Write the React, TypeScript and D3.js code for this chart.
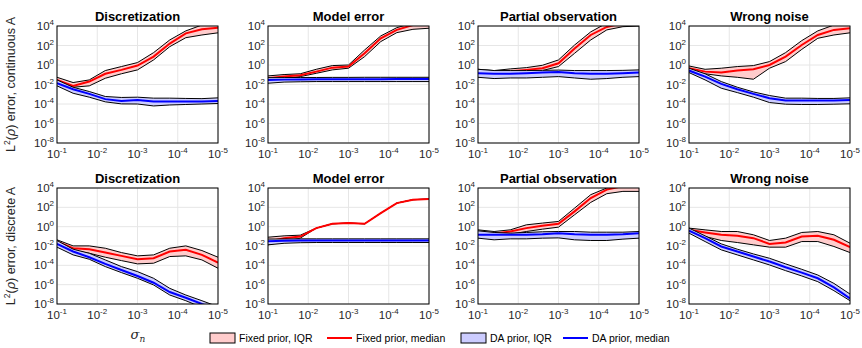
import * as d3 from 'd3'

// noise level sigma_n (x axis, reversed log)
const sigma = [1e-1, 3.98e-2, 1.58e-2, 6.31e-3, 2.51e-3, 1e-3, 3.98e-4, 1.58e-4, 6.31e-5, 2.51e-5, 1e-5]
const xTickExp = [-1, -2, -3, -4, -5]
const yTickExp = [4, 2, 0, -2, -4, -6, -8]

const panelTitles = ['Discretization', 'Model error', 'Partial observation', 'Wrong noise']
const rowLabels = ['continuous A', 'discrete A']

// errors as log10 values: fixed prior (lo / median / hi), DA prior (lo / median / hi)
const contDiscretization = {
  fixLo: [-1.8, -2.28, -2.14, -1.36, -0.9, -0.5, 0.52, 1.88, 2.8, 3.08, 3.3],
  fixMed: [-1.53, -2.14, -1.7, -0.9, -0.5, -0.06, 0.86, 2.2, 3.25, 3.66, 3.83],
  fixHi: [-1.26, -1.8, -1.53, -0.57, -0.16, 0.25, 1.27, 2.57, 3.5, 4.1, 4.3],
  daLo: [-2.14, -2.9, -3.3, -3.78, -3.99, -4.0, -4.2, -4.1, -4.05, -4.0, -3.95],
  daMed: [-1.87, -2.48, -2.96, -3.5, -3.68, -3.58, -3.75, -3.75, -3.75, -3.75, -3.68],
  daHi: [-1.53, -2.28, -2.72, -3.23, -3.33, -3.3, -3.4, -3.4, -3.43, -3.45, -3.37],
}
const contModelError = {
  fixLo: [-1.6, -1.39, -1.19, -0.85, -0.5, -0.33, 0.86, 2.4, 3.32, 3.66, 3.77],
  fixMed: [-1.36, -1.19, -1.05, -0.68, -0.27, -0.16, 1.2, 2.74, 3.6, 4.1, 4.27],
  fixHi: [-1.12, -0.98, -0.9, -0.44, -0.06, 0.0, 1.54, 2.98, 3.83, 4.3, 4.3],
  daLo: [-1.87, -1.75, -1.72, -1.7, -1.7, -1.7, -1.7, -1.7, -1.7, -1.7, -1.7],
  daMed: [-1.55, -1.5, -1.48, -1.47, -1.47, -1.46, -1.45, -1.45, -1.44, -1.44, -1.43],
  daHi: [-1.3, -1.29, -1.28, -1.28, -1.27, -1.27, -1.26, -1.26, -1.26, -1.26, -1.26],
}
const contPartialObs = {
  fixLo: [-0.9, -0.9, -0.85, -0.68, -0.57, -0.16, 1.2, 2.57, 3.6, 3.93, 4.0],
  fixMed: [-0.68, -0.78, -0.64, -0.5, -0.33, 0.18, 1.7, 3.08, 3.9, 4.3, 4.5],
  fixHi: [-0.44, -0.57, -0.4, -0.27, -0.03, 0.52, 2.05, 3.4, 4.3, 4.5, 4.5],
  daLo: [-1.26, -1.39, -1.33, -1.33, -1.26, -1.19, -1.33, -1.46, -1.39, -1.26, -1.19],
  daMed: [-0.85, -0.9, -0.9, -0.85, -0.78, -0.71, -0.85, -0.9, -0.9, -0.85, -0.78],
  daHi: [-0.44, -0.57, -0.57, -0.57, -0.55, -0.52, -0.57, -0.57, -0.57, -0.55, -0.5],
}
const contWrongNoise = {
  fixLo: [-0.5, -0.9, -1.12, -1.26, -1.46, -0.33, 0.35, 1.6, 2.74, 3.08, 3.3],
  fixMed: [-0.33, -0.68, -0.78, -0.57, -0.44, 0.0, 0.86, 2.05, 3.08, 3.6, 3.77],
  fixHi: [-0.1, -0.44, -0.33, -0.16, -0.06, 0.35, 1.27, 2.5, 3.5, 4.1, 4.2],
  daLo: [-0.78, -1.53, -2.38, -2.83, -3.3, -3.85, -4.02, -4.05, -4.05, -4.02, -3.98],
  daMed: [-0.57, -1.19, -1.94, -2.48, -2.96, -3.4, -3.65, -3.65, -3.65, -3.65, -3.58],
  daHi: [-0.33, -0.9, -1.7, -2.28, -2.76, -3.13, -3.4, -3.4, -3.43, -3.43, -3.37],
}
const discDiscretization = {
  fixLo: [-1.78, -2.47, -2.75, -3.16, -3.51, -3.85, -3.78, -3.09, -3.02, -3.44, -4.3],
  fixMed: [-1.54, -2.23, -2.33, -2.68, -3.02, -3.37, -3.27, -2.57, -2.4, -2.92, -3.72],
  fixHi: [-1.36, -1.99, -1.99, -2.23, -2.68, -3.02, -2.92, -2.23, -1.99, -2.47, -3.16],
  daLo: [-2.12, -2.92, -3.37, -4.13, -4.75, -5.34, -6.03, -7.07, -7.66, -8.35, -8.97],
  daMed: [-1.78, -2.57, -3.16, -3.85, -4.48, -5.1, -5.8, -6.76, -7.35, -8.0, -8.6],
  daHi: [-1.43, -2.33, -2.75, -3.44, -4.13, -4.65, -5.34, -6.38, -7.07, -7.66, -8.28],
}
const discModelError = {
  fixLo: [-1.88, -1.54, -1.19, -0.15, 0.3, 0.37, 0.3, 1.4, 2.44, 2.79, 2.86],
  fixMed: [-1.54, -1.19, -1.02, -0.15, 0.3, 0.37, 0.3, 1.4, 2.44, 2.79, 2.86],
  fixHi: [-1.09, -0.95, -0.88, -0.15, 0.3, 0.37, 0.3, 1.4, 2.44, 2.79, 2.86],
  daLo: [-1.88, -1.72, -1.66, -1.64, -1.64, -1.64, -1.64, -1.64, -1.64, -1.64, -1.64],
  daMed: [-1.5, -1.46, -1.44, -1.43, -1.43, -1.43, -1.42, -1.42, -1.42, -1.42, -1.42],
  daHi: [-1.28, -1.27, -1.26, -1.26, -1.26, -1.26, -1.26, -1.26, -1.26, -1.26, -1.26],
}
const discPartialObs = {
  fixLo: [-0.84, -0.91, -0.78, -0.5, -0.26, -0.05, 1.23, 2.51, 3.41, 3.65, 3.65],
  fixMed: [-0.6, -0.74, -0.5, -0.15, 0.09, 0.3, 1.58, 2.96, 3.83, 4.2, 4.35],
  fixHi: [-0.33, -0.5, -0.33, 0.19, 0.37, 0.54, 1.92, 3.31, 4.0, 4.3, 4.3],
  daLo: [-1.19, -1.36, -1.26, -1.26, -1.19, -1.16, -1.36, -1.43, -1.43, -1.29, -1.19],
  daMed: [-0.84, -0.84, -0.84, -0.84, -0.78, -0.67, -0.78, -0.84, -0.84, -0.78, -0.67],
  daHi: [-0.43, -0.6, -0.67, -0.6, -0.53, -0.5, -0.5, -0.57, -0.57, -0.57, -0.5],
}
const discWrongNoise = {
  fixLo: [-0.5, -1.02, -1.43, -1.64, -1.88, -2.12, -2.12, -1.54, -1.54, -2.05, -2.68],
  fixMed: [-0.33, -0.6, -0.84, -0.95, -1.19, -1.78, -1.64, -1.02, -0.95, -1.36, -2.12],
  fixHi: [-0.15, -0.33, -0.5, -0.5, -0.84, -1.43, -1.19, -0.6, -0.5, -0.84, -1.71],
  daLo: [-0.67, -1.54, -2.4, -2.92, -3.44, -3.96, -4.55, -5.1, -5.69, -6.62, -7.66],
  daMed: [-0.4, -1.19, -2.05, -2.57, -3.09, -3.61, -4.2, -4.75, -5.34, -6.28, -7.42],
  daHi: [-0.15, -0.95, -1.78, -2.33, -2.82, -3.27, -3.85, -4.41, -5.0, -5.87, -6.97],
}

const rows = [
  [contDiscretization, contModelError, contPartialObs, contWrongNoise],
  [discDiscretization, discModelError, discPartialObs, discWrongNoise],
]

const legendItems = [
  { label: 'Fixed prior, IQR', kind: 'box', color: '#ffcccc' },
  { label: 'Fixed prior, median', kind: 'line', color: '#ff0000' },
  { label: 'DA prior, IQR', kind: 'box', color: '#ccccff' },
  { label: 'DA prior, median', kind: 'line', color: '#0000ff' },
]

const FONT = '"Liberation Sans", Arial, Helvetica, sans-serif'
const W = 862
const H = 348
const panelLeft = [57, 268, 478, 689]
const panelW = 161
const rowTop = [26, 188]
const rowH = [117, 116]
const legendX = [210, 327, 461, 563]
const tickColor = '#262626'

function Pow10({ x, y, exp, anchor }: { x: number; y: number; exp: number; anchor: string }) {
  return (
    <text x={x} y={y} textAnchor={anchor} fontFamily={FONT} fontSize={11.5} fill={tickColor}>
      10<tspan dy={-5} fontSize={8}>{exp}</tspan>
    </text>
  )
}

function Panel({ data, r, c }: { data: any; r: number; c: number }) {
  const x0 = panelLeft[c]
  const y0 = rowTop[r]
  const h = rowH[r]
  const x = d3.scaleLog().domain([1e-1, 1e-5]).range([x0, x0 + panelW])
  const y = d3.scaleLog().domain([1e-8, 1e4]).range([y0 + h, y0])
  const idx = d3.range(sigma.length)
  const line = (vals: number[]) =>
    d3.line<number>().x(i => x(sigma[i])).y(i => y(10 ** vals[i]))(idx) || ''
  const area = (lo: number[], hi: number[]) =>
    d3.area<number>().x(i => x(sigma[i])).y0(i => y(10 ** lo[i])).y1(i => y(10 ** hi[i]))(idx) || ''
  const clipId = `clip-${r}-${c}`
  const series = [
    { lo: data.fixLo, med: data.fixMed, hi: data.fixHi, fill: '#ffcccc', stroke: '#ff0000' },
    { lo: data.daLo, med: data.daMed, hi: data.daHi, fill: '#ccccff', stroke: '#0000ff' },
  ]
  return (
    <g>
      <defs>
        <clipPath id={clipId}>
          <rect x={x0} y={y0} width={panelW} height={h} />
        </clipPath>
      </defs>
      <rect x={x0} y={y0} width={panelW} height={h} fill="#fff" />
      {xTickExp.map(e => (
        <line key={'gx' + e} x1={x(10 ** e)} x2={x(10 ** e)} y1={y0} y2={y0 + h} stroke="#e6e6e6" />
      ))}
      {yTickExp.map(e => (
        <line key={'gy' + e} x1={x0} x2={x0 + panelW} y1={y(10 ** e)} y2={y(10 ** e)} stroke="#e6e6e6" />
      ))}
      <g clipPath={`url(#${clipId})`}>
        {series.map((s, k) => (
          <g key={k}>
            <path d={area(s.lo, s.hi)} fill={s.fill} stroke="none" />
            <path d={line(s.lo)} fill="none" stroke="#000" strokeWidth={1} />
            <path d={line(s.hi)} fill="none" stroke="#000" strokeWidth={1} />
            <path d={line(s.med)} fill="none" stroke={s.stroke} strokeWidth={2} />
          </g>
        ))}
      </g>
      <rect x={x0} y={y0} width={panelW} height={h} fill="none" stroke="#000" strokeWidth={1} />
      {xTickExp.map(e => (
        <Pow10 key={'tx' + e} x={x(10 ** e)} y={y0 + h + 15} exp={e} anchor="middle" />
      ))}
      {yTickExp.map(e => (
        <Pow10 key={'ty' + e} x={x0 - 3} y={y(10 ** e) + 4} exp={e} anchor="end" />
      ))}
      <text
        x={x0 + panelW / 2}
        y={y0 - 5}
        textAnchor="middle"
        fontFamily={FONT}
        fontSize={13}
        fontWeight="bold"
        fill="#000"
      >
        {panelTitles[c]}
      </text>
    </g>
  )
}

export default function App() {
  const legendY = 338
  return (
    <svg width={W} height={H} style={{ position: 'absolute', left: 0, top: 0 }}>
      <rect width={W} height={H} fill="#fff" />
      {rows.map((row, r) =>
        row.map((data, c) => <Panel key={`${r}-${c}`} data={data} r={r} c={c} />)
      )}
      {rowLabels.map((lab, r) => (
        <text
          key={lab}
          transform={`translate(15, ${rowTop[r] + rowH[r] / 2}) rotate(-90)`}
          textAnchor="middle"
          fontFamily={FONT}
          fontSize={12.5}
          fill={tickColor}
        >
          L<tspan dy={-5} fontSize={8.5}>2</tspan>
          <tspan dy={5}>(</tspan>
          <tspan fontStyle="italic" fontFamily="'DejaVu Serif', serif">ρ</tspan>
          <tspan>) error, {lab}</tspan>
        </text>
      ))}
      <text x={panelLeft[0] + panelW / 2 - 7} y={339} fontFamily="'DejaVu Serif', serif" fontSize={13} fontStyle="italic" fill={tickColor}>
        σ<tspan dy={3} fontSize={9}>n</tspan>
      </text>
      {legendItems.map((it, i) => {
        const startX = legendX[i]
        return (
          <g key={i}>
            {it.kind === 'box' ? (
              <rect x={startX} y={legendY - 5} width={25} height={10} fill={it.color} stroke="#000" strokeWidth={1} />
            ) : (
              <line x1={startX} x2={startX + 25} y1={legendY} y2={legendY} stroke={it.color} strokeWidth={2} />
            )}
            <text x={startX + 29} y={legendY + 4} fontFamily={FONT} fontSize={10.5} fill="#000">
              {it.label}
            </text>
          </g>
        )
      })}
    </svg>
  )
}
